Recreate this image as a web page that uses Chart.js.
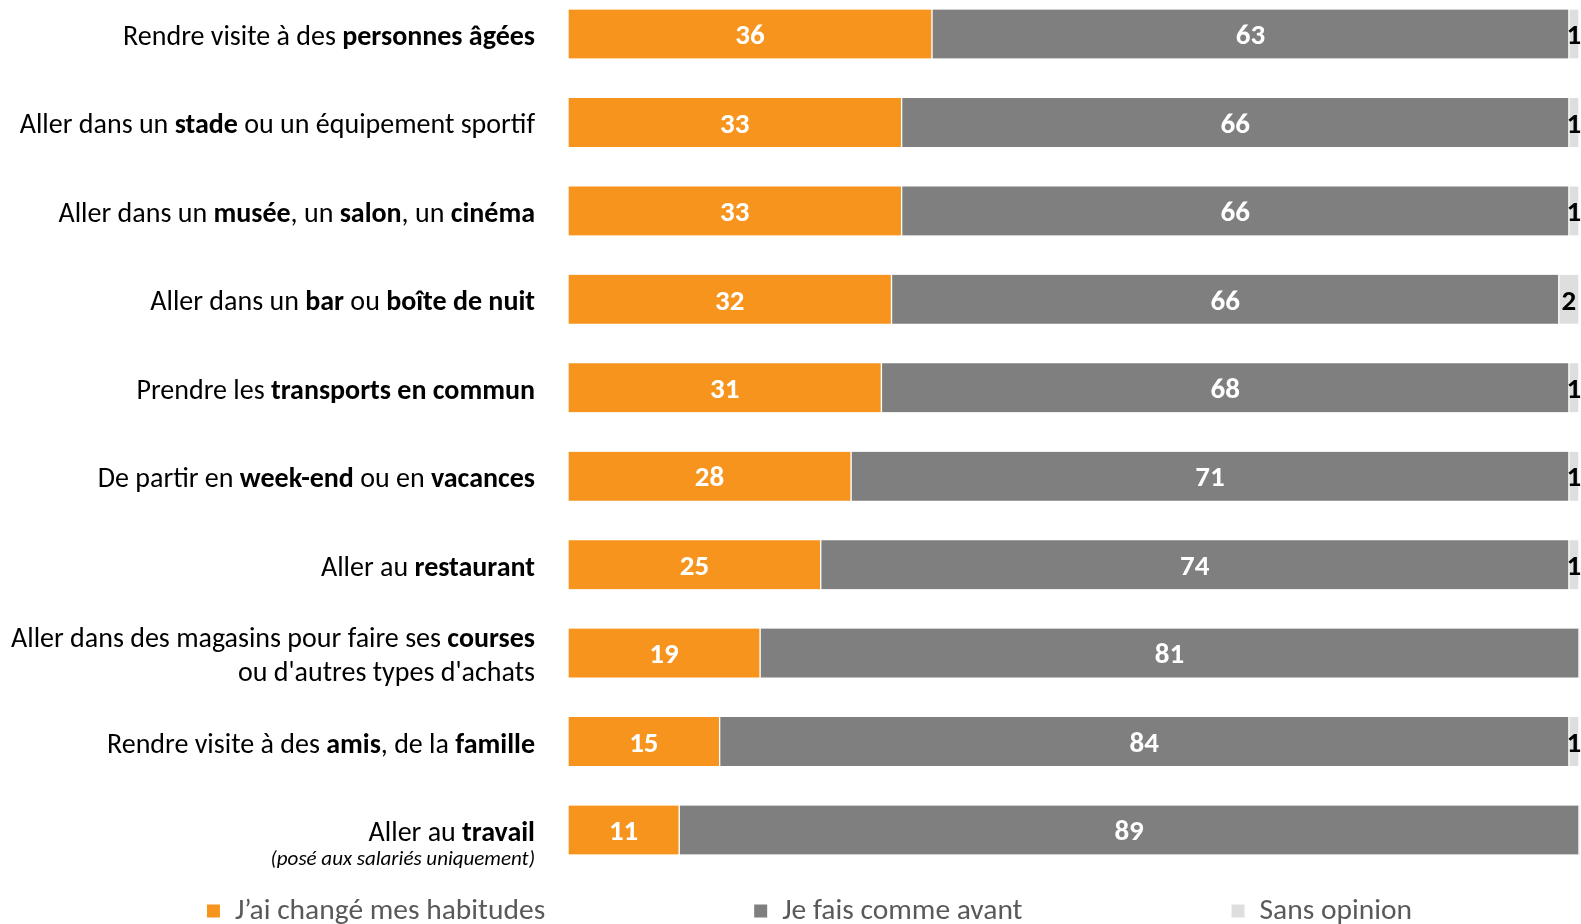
<!DOCTYPE html>
<html lang="fr">
<head>
<meta charset="utf-8">
<title>Habitudes</title>
<script src="https://cdn.jsdelivr.net/npm/chart.js@4.4.0/dist/chart.umd.min.js"></script>
<style>
  html, body { margin: 0; padding: 0; background: #fff; overflow: hidden; }
  #wrap { width: 100vw; height: 100vh; position: relative; overflow: hidden; }
  #chart { display: block; }
</style>
</head>
<body>
<div id="wrap"><canvas id="chart"></canvas></div>
<script>
// libellés (les parties en gras entre **)
const categories = [
  ["Rendre visite à des **personnes âgées**"],
  ["Aller dans un **stade** ou un équipement sportif"],
  ["Aller dans un **musée**, un **salon**, un **cinéma**"],
  ["Aller dans un **bar** ou **boîte de nuit**"],
  ["Prendre les **transports en commun**"],
  ["De partir en **week-end** ou en **vacances**"],
  ["Aller au **restaurant**"],
  ["Aller dans des magasins pour faire ses **courses**", "ou d'autres types d'achats"],
  ["Rendre visite à des **amis**, de la **famille**"],
  ["Aller au **travail**"]
];
const notes = ["", "", "", "", "", "", "", "", "", "(posé aux salariés uniquement)"];

const seriesNames = ["J’ai changé mes habitudes", "Je fais comme avant", "Sans opinion"];
const changed = [36, 33, 33, 32, 31, 28, 25, 19, 15, 11];
const asBefore = [63, 66, 66, 66, 68, 71, 74, 81, 84, 89];
const noOpinion = [1, 1, 1, 2, 1, 1, 1, 0, 1, 0];

const colors = ["#F7941D", "#7F7F7F", "#DEDEDE"];
const labelColors = ["#ffffff", "#ffffff", "#000000"];
const FONT = "Calibri, Carlito, Lato, 'Open Sans', sans-serif";
const LABEL_SIZE = 28;

// texte avec parties en gras, aligné à droite
function drawRich(ctx, text, right, y, size) {
  const parts = text.split("**").map((t, i) => ({ t, bold: i % 2 === 1 })).filter(p => p.t);
  let total = 0;
  parts.forEach(p => {
    ctx.font = (p.bold ? "bold " : "") + size + "px " + FONT;
    p.w = ctx.measureText(p.t).width;
    total += p.w;
  });
  let x = right - total;
  parts.forEach(p => {
    ctx.font = (p.bold ? "bold " : "") + size + "px " + FONT;
    ctx.fillText(p.t, x, y);
    x += p.w;
  });
}

const categoryLabels = {
  id: "categoryLabels",
  afterDraw(chart) {
    const ctx = chart.ctx;
    const yScale = chart.scales.y;
    const right = chart.chartArea.left - 33;
    ctx.save();
    ctx.fillStyle = "#000";
    ctx.textBaseline = "middle";
    ctx.textAlign = "left";
    categories.forEach((lines, j) => {
      const y = yScale.getPixelForValue(j);
      if (lines.length === 2) {
        drawRich(ctx, lines[0], right, y - 13, LABEL_SIZE);
        drawRich(ctx, lines[1], right, y + 21, LABEL_SIZE);
      } else if (notes[j]) {
        drawRich(ctx, lines[0], right, y + 4, LABEL_SIZE);
        ctx.font = "italic 21px " + FONT;
        ctx.textAlign = "right";
        ctx.fillText(notes[j], right, y + 30);
        ctx.textAlign = "left";
      } else {
        drawRich(ctx, lines[0], right, y + 4, LABEL_SIZE);
      }
    });
    ctx.restore();
  }
};

const valueLabels = {
  id: "valueLabels",
  afterDatasetsDraw(chart) {
    const ctx = chart.ctx;
    ctx.save();
    ctx.textAlign = "center";
    ctx.textBaseline = "middle";
    ctx.font = "bold 29px " + FONT;
    chart.data.datasets.forEach((ds, i) => {
      const meta = chart.getDatasetMeta(i);
      ctx.fillStyle = labelColors[i];
      meta.data.forEach((bar, j) => {
        const v = ds.data[j];
        if (!v) return;
        ctx.fillText(String(v), (bar.x + bar.base) / 2, bar.y + 3);
      });
    });
    ctx.restore();
  }
};

const bottomLegend = {
  id: "bottomLegend",
  afterDraw(chart) {
    const ctx = chart.ctx;
    const y = 911, box = 13, gapText = 15, gapItem = 209;
    ctx.save();
    ctx.font = "29.5px " + FONT;
    ctx.textBaseline = "middle";
    const widths = seriesNames.map(n => ctx.measureText(n).width);
    const total = widths.reduce((a, w) => a + box + gapText + w, 0) + gapItem * (seriesNames.length - 1);
    let x = chart.width / 2 + 19 - total / 2;
    seriesNames.forEach((n, i) => {
      ctx.fillStyle = colors[i];
      ctx.fillRect(x, y - box / 2, box, box);
      ctx.fillStyle = "#595959";
      ctx.fillText(n, x + box + gapText, y + 1);
      x += box + gapText + widths[i] + gapItem;
    });
    ctx.restore();
  }
};

const dsBase = {
  barThickness: 49,
  borderColor: "#ffffff",
  borderWidth: { left: 1, right: 1, top: 0, bottom: 0 },
  borderSkipped: false,
  clip: false
};

new Chart(document.getElementById("chart"), {
  type: "bar",
  data: {
    labels: categories.map(l => l.join(" ").replace(/\*\*/g, "")),
    datasets: [
      Object.assign({ label: seriesNames[0], data: changed, backgroundColor: colors[0] }, dsBase),
      Object.assign({ label: seriesNames[1], data: asBefore, backgroundColor: colors[1] }, dsBase),
      Object.assign({ label: seriesNames[2], data: noOpinion, backgroundColor: colors[2] }, dsBase)
    ]
  },
  options: {
    indexAxis: "y",
    responsive: true,
    maintainAspectRatio: false,
    animation: false,
    layout: { padding: { left: 568, right: 2, top: 34, bottom: 94 } },
    scales: {
      x: { stacked: true, min: 0, max: 100, display: false },
      y: { stacked: true, offset: false, display: false }
    },
    plugins: {
      legend: { display: false },
      tooltip: { enabled: false }
    }
  },
  plugins: [categoryLabels, valueLabels, bottomLegend]
});
</script>
</body>
</html>
